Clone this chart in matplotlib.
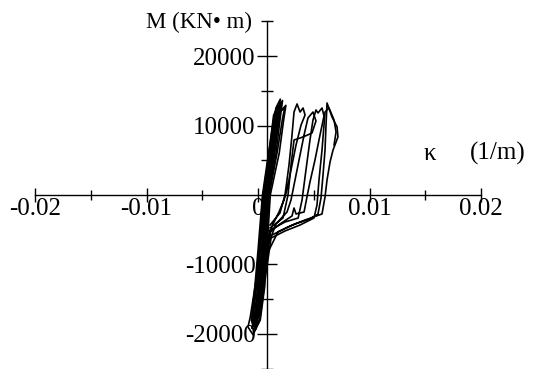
import matplotlib
matplotlib.use("Agg")
import matplotlib.pyplot as plt
from matplotlib.ticker import FixedLocator, FixedFormatter

plt.rcParams["font.family"] = ["Liberation Serif", "DejaVu Serif"]

# Moment-curvature hysteresis of the section (curvature in 1/m, moment in kN·m)
# Near-elastic cycles forming the dense central band
band_1_k = [0.0007, 0.0013, 0.0016, 0.0014, 0.0009, 0.00045, 0.0001, -0.0002, -0.00055, -0.00035, 0.0, 0.0003, 0.0007]
band_1_m = [0, 6500, 11900, 11500, 5000, 0, -7900, -13700, -17700, -18300, -15100, -9400, 0]

band_2_k = [0.0009, 0.0015, 0.0019, 0.0021, 0.0017, 0.0011, 0.0006, 0.0002, -0.00005, -0.0004, -0.0002, 0.0002, 0.0005, 0.0009]
band_2_m = [0, 6000, 11500, 13400, 12000, 5500, 0, -8000, -13500, -18800, -19300, -15000, -9000, 0]

band_3_k = [0.0008, 0.0014, 0.0018, 0.0017, 0.0012, 0.0006, 0.0002, -0.0001, -0.0007, -0.0009, -0.00045, 0.0002, 0.0006, 0.0008]
band_3_m = [0, 6500, 12300, 12800, 6000, 0, -6000, -11500, -17600, -19000, -20100, -18000, -13200, 0]

band_4_k = [0.001, 0.0017, 0.0022, 0.0024, 0.0019, 0.0012, 0.0008, 0.0004, 0.0001, -0.0002, 0.0, 0.0004, 0.0007, 0.001]
band_4_m = [0, 6000, 11000, 12600, 11800, 5500, 0, -8000, -13500, -17500, -17800, -13000, -8000, 0]

band_5_k = [0.00085, 0.0014, 0.00175, 0.002, 0.0016, 0.001, 0.0005, 0.0001, -0.0002, -0.0005, -0.0003, 0.0001, 0.0004, 0.00085]
band_5_m = [0, 5500, 10500, 13800, 12500, 5000, 0, -8500, -14000, -18500, -19000, -14500, -8500, 0]

band_6_k = [0.0011, 0.0019, 0.0023, 0.0025, 0.002, 0.0013, 0.0009, 0.0005, 0.0002, -0.0001, 0.0001, 0.0005, 0.0008, 0.0011]
band_6_m = [0, 6000, 10800, 12900, 12000, 5000, 0, -8000, -13000, -17000, -17500, -13000, -8000, 0]

band_7_k = [0.00095, 0.0016, 0.002, 0.0022, 0.0018, 0.0012, 0.0007, 0.0003, 0.0, -0.00035, -0.0001, 0.0003, 0.0006, 0.00095]
band_7_m = [0, 5800, 11200, 13600, 12400, 5200, 0, -8200, -13800, -18200, -18600, -14000, -8400, 0]

band_8_k = [0.00075, 0.0014, 0.0018, 0.0019, 0.0015, 0.0009, 0.0004, 0.0, -0.0003, -0.0006, -0.0004, 0.0, 0.0003, 0.00075]
band_8_m = [0, 6200, 11800, 13000, 11900, 5500, 0, -8000, -13500, -18000, -18900, -14500, -8800, 0]

# Larger post-yield cycles
cyc_1_k = [0.00108, 0.00197, 0.00242, 0.00278, 0.00305, 0.00323, 0.0035, 0.00377, 0.00404, 0.00422,
           0.00386, 0.00341, 0.00296, 0.0026, 0.00233, 0.00188, 0.00126, 0.00063, 0.00009, -0.00036]
cyc_1_m = [-4320, -2590, 0, 4320, 8630, 11940, 13100, 11940, 12520, 11510,
           10070, 7200, 3600, 720, -720, -2450, -4460, -8630, -14390, -18700]

cyc_2_k = [0.00108, 0.00224, 0.00269, 0.00296, 0.00323, 0.00404, 0.00484, 0.0052, 0.00493, 0.00448,
           0.00413, 0.00368, 0.00323, 0.00296, 0.0026, 0.00161, 0.0009, 0.00027, -0.00027]
cyc_2_m = [-4750, -3310, 0, 4320, 7910, 8350, 8920, 10650, 11940, 11080,
           8630, 5040, 1440, -720, -2450, -4170, -7200, -12950, -18280]

cyc_3_k = [-0.00036, 0.00018, 0.00063, 0.00108, 0.00242, 0.0036, 0.00395, 0.0043, 0.00466, 0.00493,
           0.0052, 0.00538, 0.00574, 0.00592, 0.00556, 0.00511, 0.00466, 0.00439, 0.00413, 0.00341,
           0.00323, 0.00305, 0.00197, 0.00108, 0.00054, 0.0, -0.00054]
cyc_3_m = [-18700, -15110, -9350, -5040, -3890, -3310, -720, 3600, 7910, 10790,
           12230, 11800, 12520, 11370, 8630, 5040, 1870, -290, -2450, -2730,
           -1870, -3020, -4170, -5320, -9350, -15110, -19140]

cyc_4_k = [-0.00054, 0.0, 0.00054, 0.00108, 0.00215, 0.00332, 0.00466, 0.00538, 0.00565, 0.00583,
           0.00601, 0.0061, 0.00619, 0.00664, 0.00709, 0.00717, 0.00673, 0.00646, 0.00619, 0.00601,
           0.00574, 0.00422, 0.00287, 0.00179, 0.0009, 0.00027, -0.00027]
cyc_4_m = [-19140, -16550, -11510, -5900, -5040, -4170, -3450, -2730, -430, 2880,
           6480, 10070, 13240, 11220, 9790, 8350, 6480, 4750, 2160, -290,
           -2730, -3600, -4460, -5320, -8200, -13670, -19430]

cyc_5_k = [-0.00027, 0.00018, 0.00063, 0.00117, 0.00242, 0.00377, 0.00502, 0.00529, 0.00547, 0.00574,
           0.00592, 0.00601, 0.00637, 0.00682, 0.007, 0.00682]
cyc_5_m = [-19430, -17700, -12230, -6190, -5180, -4320, -3310, -1440, 2160, 6480,
           10070, 11940, 12520, 10790, 9070, 7200]

x_major = [-0.02, -0.01, 0.0, 0.01, 0.02]
x_major_labels = ["-0.02", "-0.01", "0", "0.01", "0.02"]
x_minor = [-0.015, -0.005, 0.005, 0.015]
y_major = [-20000, -10000, 10000, 20000]
y_major_labels = ["-20000", "-10000", "10000", "20000"]
y_minor = [-25000, -15000, -5000, 5000, 15000, 25000]

fig = plt.figure(figsize=(5.42, 3.69), dpi=100)
ax = fig.add_axes([0, 0, 1, 1])
ax.set_xlim(-0.02314, 0.02547)
ax.set_ylim(-25040, 28060)

series = [
    (band_1_k, band_1_m), (band_2_k, band_2_m), (band_3_k, band_3_m),
    (band_4_k, band_4_m), (band_5_k, band_5_m), (band_6_k, band_6_m),
    (band_7_k, band_7_m), (band_8_k, band_8_m),
    (cyc_1_k, cyc_1_m), (cyc_2_k, cyc_2_m), (cyc_3_k, cyc_3_m),
    (cyc_4_k, cyc_4_m), (cyc_5_k, cyc_5_m),
]
for k, m in series:
    ax.plot(k, m, color="black", lw=1.2, solid_joinstyle="round", zorder=3)

for side in ("top", "right"):
    ax.spines[side].set_visible(False)
ax.spines["bottom"].set_position(("data", 0))
ax.spines["left"].set_position(("data", 0.0008))
ax.spines["bottom"].set_bounds(-0.02, 0.02)
ax.spines["left"].set_bounds(-25000, 25000)
for side in ("bottom", "left"):
    ax.spines[side].set_linewidth(1.0)
    ax.spines[side].set_zorder(2)
ax.set_axisbelow(True)

ax.xaxis.set_major_locator(FixedLocator(x_major))
ax.xaxis.set_major_formatter(FixedFormatter(x_major_labels))
ax.xaxis.set_minor_locator(FixedLocator(x_minor))
ax.yaxis.set_major_locator(FixedLocator(y_major))
ax.yaxis.set_major_formatter(FixedFormatter(y_major_labels))
ax.yaxis.set_minor_locator(FixedLocator(y_minor))

ax.tick_params(axis="x", which="major", direction="inout", length=10, width=1.0,
               pad=-3, labelsize=18)
ax.tick_params(axis="x", which="minor", direction="inout", length=7, width=1.0)
ax.tick_params(axis="y", which="major", direction="inout", length=14.4, width=1.0,
               pad=1, labelsize=18)
ax.tick_params(axis="y", which="minor", direction="inout", length=8, width=1.0)

fig.text(252 / 542, 1 - 28 / 369, "M (KN\u2022 m)", fontsize=16.5, ha="right", va="baseline")
fig.text(424 / 542, 1 - 160 / 369, "\u03ba", fontsize=18, ha="left", va="baseline")
fig.text(470 / 542, 1 - 160 / 369, "(1/m)", fontsize=18, ha="left", va="baseline")

fig.savefig("out.png", dpi=100, facecolor="white")
